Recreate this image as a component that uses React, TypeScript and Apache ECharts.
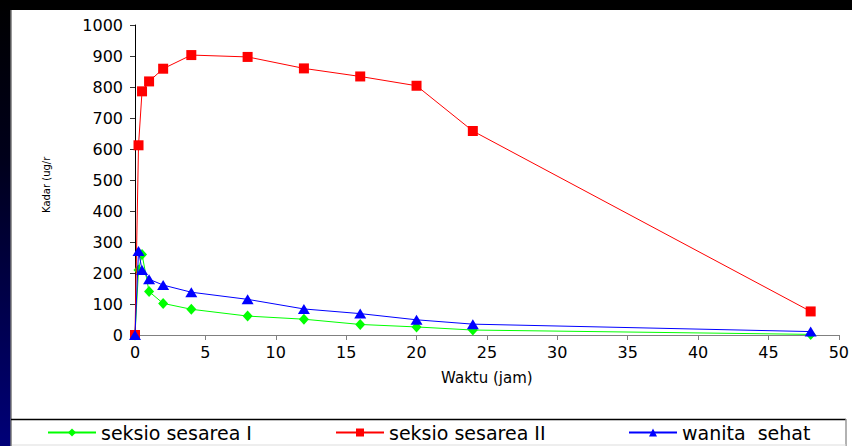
import React, { useEffect, useRef } from "react";
import * as echarts from "echarts";

const hours = [0, 0.25, 0.5, 1, 2, 4, 8, 12, 16, 20, 24, 48];
const sesareaI = [0, 210, 260, 140, 102, 83, 61, 51, 34, 26, 16, 2];
const sesareaII = [0, 612, 786, 818, 859, 903, 897, 860, 834, 804, 658, 76];
const wanitaSehat = [0, 271, 210, 180, 161, 138, 115, 84, 69, 49, 35, 11];
const seriesNames = ["seksio sesarea I", "seksio sesarea II", "wanita  sehat"];
const xTitle = "Waktu (jam)";
const yTitle = "Kadar (ug/r";

const FONT = "DejaVu Sans";

function pairs(ys: number[]) {
  return hours.map((h, i) => [h, ys[i]]);
}

export default function App() {
  const ref = useRef<HTMLDivElement>(null);
  useEffect(() => {
    if (!ref.current) return;
    const chart = echarts.init(ref.current, undefined, { renderer: "svg" });
    const legendBase = {
      top: 423,
      padding: 0,
      itemWidth: 48,
      itemHeight: 10,
      textStyle: { fontFamily: FONT, fontSize: 19, color: "#000" },
      selectedMode: false as const,
    };
    chart.setOption({
      animation: false,
      backgroundColor: "#ffffff",
      grid: { left: 135, right: 11, top: 25, bottom: 111, containLabel: false },
      xAxis: {
        type: "value",
        min: 0,
        max: 50,
        interval: 5,
        name: xTitle,
        nameLocation: "middle",
        nameGap: 35,
        nameTextStyle: { fontFamily: FONT, fontSize: 15, color: "#000" },
        axisLine: { show: true, lineStyle: { color: "#808080", width: 1 } },
        axisTick: { show: true, length: 5, lineStyle: { color: "#808080" } },
        axisLabel: { fontFamily: FONT, fontSize: 16, color: "#000", margin: 9, formatter: (v: number) => String(v) },
        splitLine: { show: false },
      },
      yAxis: {
        type: "value",
        min: 0,
        max: 1000,
        interval: 100,
        axisLine: { show: true, lineStyle: { color: "#000", width: 1 } },
        axisTick: { show: true, length: 5, lineStyle: { color: "#333" } },
        axisLabel: { fontFamily: FONT, fontSize: 16, color: "#000", margin: 12, formatter: (v: number) => String(v) },
        splitLine: { show: false },
      },
      legend: [
        { ...legendBase, left: 47, data: [seriesNames[0]] },
        { ...legendBase, left: 335, data: [seriesNames[1]] },
        { ...legendBase, left: 628, data: [seriesNames[2]] },
      ],
      graphic: [
        { type: "rect", shape: { x: 0, y: 0, width: 852, height: 10 }, style: { fill: "#000" }, z: 10 },
        {
          type: "rect",
          shape: { x: 0, y: 0, width: 11, height: 446 },
          style: {
            fill: new echarts.graphic.LinearGradient(0, 0, 0, 1, [
              { offset: 0, color: "#000000" },
              { offset: 0.35, color: "#00001a" },
              { offset: 1, color: "#000078" },
            ]),
          },
          z: 10,
        },
        { type: "line", shape: { x1: 11, y1: 10, x2: 11, y2: 446 }, style: { stroke: "#777", lineWidth: 1.5 }, z: 10 },
        { type: "line", shape: { x1: 11, y1: 419.5, x2: 846, y2: 419.5 }, style: { stroke: "#000", lineWidth: 1.5 }, z: 10 },
        { type: "line", shape: { x1: 846, y1: 419, x2: 846, y2: 446 }, style: { stroke: "#999", lineWidth: 1.5 }, z: 10 },
        { type: "line", shape: { x1: 12, y1: 445, x2: 846, y2: 445 }, style: { stroke: "#ddd", lineWidth: 1 }, z: 10 },
        {
          type: "text",
          x: 46,
          y: 213,
          rotation: Math.PI / 2,
          style: {
            text: yTitle,
            fontFamily: FONT,
            fontSize: 10,
            fill: "#000",
            align: "left",
            verticalAlign: "middle",
          },
          z: 10,
        },
      ],
      series: [
        {
          name: seriesNames[0],
          type: "line",
          data: pairs(sesareaI),
          symbol: "diamond",
          symbolSize: [10, 11],
          color: "#00ff00",
          lineStyle: { color: "#00ff00", width: 1 },
          itemStyle: { color: "#00ff00" },
          z: 2,
        },
        {
          name: seriesNames[1],
          type: "line",
          data: pairs(sesareaII),
          symbol: "rect",
          symbolSize: 10,
          color: "#ff0000",
          lineStyle: { color: "#ff0000", width: 1 },
          itemStyle: { color: "#ff0000" },
          z: 3,
        },
        {
          name: seriesNames[2],
          type: "line",
          data: pairs(wanitaSehat),
          symbol: "triangle",
          symbolSize: [12, 10],
          color: "#0000ff",
          lineStyle: { color: "#0000ff", width: 1 },
          itemStyle: { color: "#0000ff" },
          z: 4,
        },
      ],
    });
    return () => chart.dispose();
  }, []);
  return (
    <div
      ref={ref}
      style={{ position: "fixed", left: 0, top: 0, width: 852, height: 446 }}
    />
  );
}
